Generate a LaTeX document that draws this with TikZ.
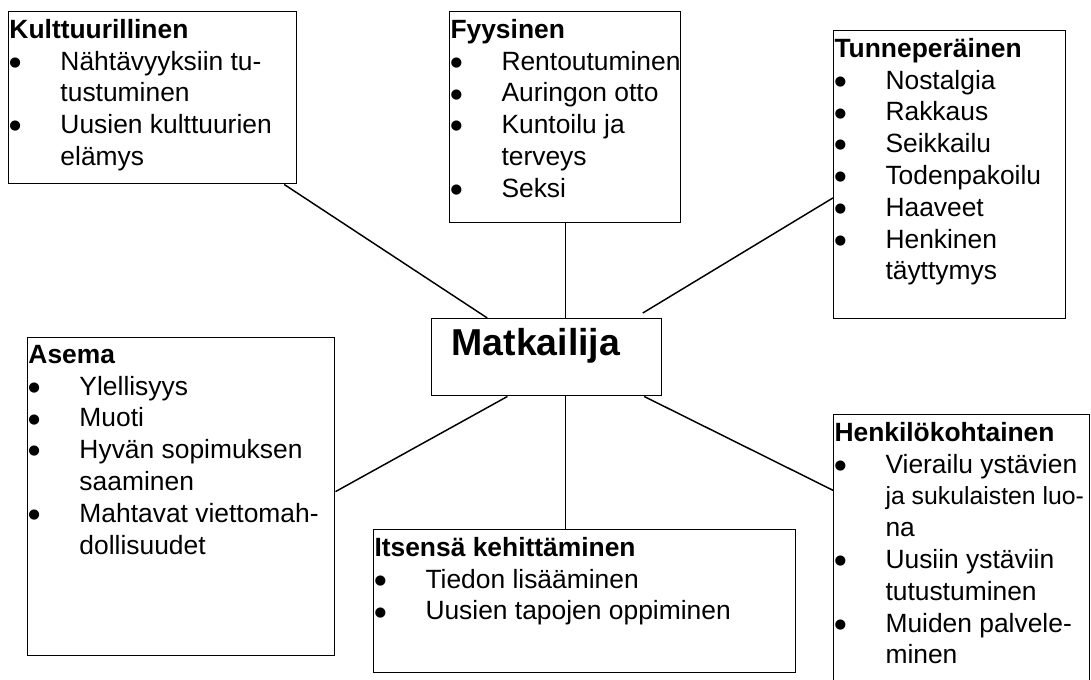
\documentclass[tikz,border=0pt]{standalone}
\usepackage{fontspec}
\setmainfont{Liberation Sans}
\newfontfamily\dotfont{DejaVu Sans}
\usetikzlibrary{calc}

\newcommand{\bulit}{\makebox[38.25pt][l]{\raisebox{2.8pt}{\dotfont\fontsize{10pt}{10pt}\selectfont ●}}}
\newcommand{\indit}{\hspace*{38.25pt}}

\tikzset{every picture/.style={line width=0.75pt}}
\tikzset{
  box/.style={draw, line width=1.1pt, inner sep=0pt, anchor=north west},
  txt/.style={inner sep=0pt, anchor=north west, align=left, font=\fontsize{19.8pt}{23.85pt}\selectfont},
  link/.style={line width=1.1pt}
}

\begin{document}
\begin{tikzpicture}[x=0.75pt,y=0.75pt,yscale=-1,xscale=1]
%set diagram left start at 0, and has height of 679
\clip (0,0) rectangle (1091,679);

%Shape: Rectangle [kult]
\node (kult) [box, minimum width=216pt, minimum height=129pt] at (8,11) {};
%Shape: Rectangle [fyys]
\node (fyys) [box, minimum width=173.25pt, minimum height=158.25pt] at (449,11) {};
%Shape: Rectangle [tunne]
\node (tunne) [box, minimum width=174pt, minimum height=216pt] at (833,30) {};
%Shape: Rectangle [matk]
\node (matk) [box, minimum width=172.5pt, minimum height=57.75pt] at (431,318) {};
%Shape: Rectangle [asema]
\node (asema) [box, minimum width=230.25pt, minimum height=238.5pt] at (27,337) {};
%Shape: Rectangle [itse]
\node (itse) [box, minimum width=316.5pt, minimum height=107.25pt] at (373,529) {};
%Shape: Rectangle [henk]
\node (henk) [box, minimum width=192pt, minimum height=207pt] at (833,414) {};

%Straight Lines
\draw [link] (kult) -- (matk);
%Straight Lines
\draw [link] (fyys.south) -- (fyys.south |- matk.north);
%Straight Lines
\draw [link] ($(tunne.north west)!0.58!(tunne.south west)$) -- ($(matk.north west)!0.915!(matk.north east)+(0,-5)$);
%Straight Lines
\draw [link] ($(asema.north east)!0.484!(asema.south east)$) -- ($(matk.south west)!0.33!(matk.south east)$);
%Straight Lines
\draw [link] (fyys.south |- matk.south) -- (fyys.south |- itse.north);
%Straight Lines
\draw [link] ($(matk.south west)!0.921!(matk.south east)$) -- ($(henk.north west)!0.275!(henk.south west)$);

% Text Node
\node (kultT) [txt] at ($(kult.north west)+(1,7.6)$) {\textbf{Kulttuurillinen}\\
\bulit Nähtävyyksiin tu-\\
\indit tustuminen\\
\bulit Uusien kulttuurien\\
\indit elämys};
% Text Node
\node (fyysT) [txt] at ($(fyys.north west)+(1,7.6)$) {\textbf{Fyysinen}\\
\bulit Rentoutuminen\\
\bulit Auringon otto\\
\bulit Kuntoilu ja\\
\indit terveys\\
\bulit Seksi};
% Text Node
\node (tunneT) [txt] at ($(tunne.north west)+(1,7.6)$) {\textbf{Tunneperäinen}\\
\bulit Nostalgia\\
\bulit Rakkaus\\
\bulit Seikkailu\\
\bulit Todenpakoilu\\
\bulit Haaveet\\
\bulit Henkinen\\
\indit täyttymys};
% Text Node
\node (matkT) [anchor=base west, inner sep=0pt, font=\fontsize{28.1pt}{33pt}\selectfont\bfseries] at (451,355) {Matkailija};
% Text Node
\node (asemaT) [txt] at ($(asema.north west)+(1,7.6)$) {\textbf{Asema}\\
\bulit Ylellisyys\\
\bulit Muoti\\
\bulit Hyvän sopimuksen\\
\indit saaminen\\
\bulit Mahtavat viettomah-\\
\indit dollisuudet};
% Text Node
\node (itseT) [txt] at ($(itse.north west)+(1,7.6)$) {\textbf{Itsensä kehittäminen}\\
\bulit Tiedon lisääminen\\
\bulit Uusien tapojen oppiminen};
% Text Node
\node (henkT) [txt] at ($(henk.north west)+(1,7.6)$) {\textbf{Henkilökohtainen}\\
\bulit Vierailu ystävien\\
\indit{\fontsize{18.6pt}{23.85pt}\selectfont ja sukulaisten luo-}\\
\indit na\\
\bulit Uusiin ystäviin\\
\indit tutustuminen\\
\bulit Muiden palvele-\\
\indit minen};

\end{tikzpicture}
\end{document}
